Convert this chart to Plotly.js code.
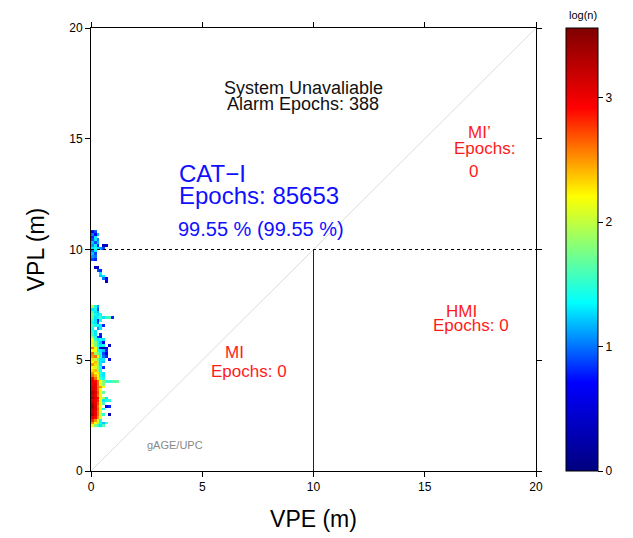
<!DOCTYPE html>
<html>
<head>
<meta charset="utf-8">
<script src="https://cdn.plot.ly/plotly-3.0.1.min.js"></script>
<style>html,body{margin:0;padding:0;background:#fff;}#chart{width:633px;height:538px;}</style>
</head>
<body>
<div id="chart"></div>
<script>
// ---- DATA ----
const binSize = 0.125;          // VPE / VPL histogram bin size (m)
const vpeStart = 0.0;           // first VPE bin edge
const vplStart = 2.0;           // first VPL bin edge
const alarmLimit = 10;          // VAL (m)
const axisMax = 20;
const zMax = 3.56;
// log10(count) per VPL row (bottom -> top), columns = VPE bins from 0
const logCounts = [
  [2.2,1.8,1.5,1.3,1.6],
  [2.5,2.2,1.9,1.4,1.2,1.5],
  [2.8,2.5,2.1,1.4],
  [3.0,2.9,2.5,2.1],
  [3.3,3.0,2.6,2.0,1.5,null,0.3],
  [3.2,3.0,2.6,2.1],
  [3.3,3.1,2.7,2.2,1.4],
  [3.4,3.1,2.6,2.2,null,0.7,0.8],
  [3.3,3.0,2.7,2.2,1.6],
  [3.1,3.0,2.8,2.2,1.3,1.4,1.5],
  [3.4,3.1,2.9,2.2,1.9,1.3],
  [3.2,3.0,2.6,2.2],
  [3.3,3.1,2.7,2.2,1.7],
  [3.1,3.0,2.6,2.2],
  [3.1,3.0,2.6,2.5,2.2],
  [3.0,3.0,2.6,2.1,1.8],
  [3.0,2.9,2.6,2.2,1.8,1.5,1.5,1.6,1.6,1.7],
  [2.9,2.6,2.2,1.6,1.4],
  [2.6,2.4,2.2,1.4,1.3],
  [2.5,2.2,2.3,1.5,1.3],
  [2.3,2.4,1.8,1.4],
  [2.2,2.1,1.8,1.4,0.8],
  [2.5,2.3,1.8,1.3],
  [2.2,2.4,1.8,1.3,1.2],
  [2.3,2.0,1.7,1.3,1.3,null,0.6],
  [2.5,2.6,2.2,1.4,1.0,0.8],
  [2.6,1.9,1.7,1.4,0.9,0.6],
  [2.2,2.2,1.4,1.3,1.2,0.8],
  [2.6,2.2,1.4,0.5,0.3,0.6],
  [2.2,1.8,1.4,1.3,1.4,null,0.5],
  [2.1,1.8,1.4,1.2,0.6],
  [2.2,1.5,1.3,1.4,1.3],
  [1.8,1.4,0.8,0.6],
  [1.6,1.3,null,0.8],
  [1.5,1.3],
  [1.4,null,1.1,1.3],
  [1.6,1.4,1.4,1.3,0.8],
  [1.4,1.3,0.9],
  [1.5,1.3,0.8,1.4],
  [1.7,1.3,1.4,1.6,1.3,1.5,1.6,0.8],
  [1.8,1.4,1.3,1.4],
  [1.6,1.3,1.2],
  [1.3,1.4,0.9],
  [2.0,1.4,1.1],
  [],[],[],[],[],[],[],[],
  [null,null,null,null,null,0.5],
  [null,null,null,null,1.0,0.7],
  [null,null,null,1.2,1.3],
  [null,null,null,1.3],
  [null,null,0.9,0.8],
  [null,0.4,0.3],
  [],
  [],
  [0.9,0.8],
  [1.1,1.0],
  [1.2,0.9],
  [1.0,1.3],
  [1.3,1.4,1.3,1.1,0.9],
  [1.1,1.3,0.8,null,0.4,0.3],
  [1.2,0.9,1.2],
  [0.9,1.3,1.0],
  [0.8,1.3],
  [1.0,0.7,1.2],
  [0.6,0.9]
];
const nCols = 11;
const colorStops = [
  [0,'#00007f'],[0.2,'#0000ff'],[0.38,'#00ffff'],
  [0.62,'#ffff00'],[0.82,'#ff0000'],[1,'#7f0000']
];
const cbTicks = [0,1,2,3];

// ---- BUILD ----
const z = logCounts.map(r => {
  const row = r.slice();
  while (row.length < nCols) row.push(null);
  return row;
});
const xCenters = [];
for (let i = 0; i < nCols; i++) xCenters.push(vpeStart + binSize*(i+0.5));
const yCenters = [];
for (let j = 0; j < z.length; j++) yCenters.push(vplStart + binSize*(j+0.5));

const FONT = 'Liberation Sans, Arial, Helvetica, sans-serif';
const heat = {
  type:'heatmap', x:xCenters, y:yCenters, z:z,
  zmin:0, zmax:zMax, colorscale:colorStops, hoverongaps:false,
  colorbar:{
    thickness:32, thicknessmode:'pixels', len:1, lenmode:'fraction',
    x:1.067, xanchor:'left', y:0, yanchor:'bottom', ypad:0, xpad:0,
    outlinewidth:1, outlinecolor:'#000',
    tickvals:cbTicks, ticks:'outside', ticklen:5, tickcolor:'#000',
    tickfont:{size:12, color:'#000', family:FONT}
  }
};

const red = '#ff1a1a', blue = '#1010ff';
function ann(x,y,text,size,color,xanchor){
  return {x:x,y:y,xref:'x',yref:'y',text:text,showarrow:false,
    font:{size:size,color:color,family:FONT},xanchor:xanchor||'center',yanchor:'middle'};
}
const layout = {
  width:633, height:538,
  margin:{l:91,r:97,t:28,b:67},
  paper_bgcolor:'#fff', plot_bgcolor:'#fff',
  font:{family:FONT,color:'#000'},
  showlegend:false,
  xaxis:{range:[0,axisMax],dtick:5,ticks:'outside',ticklen:5,tickcolor:'#000',
    showline:true,linecolor:'#000',linewidth:1,mirror:'ticks',showgrid:false,zeroline:false,
    tickfont:{size:12},title:{text:'VPE (m)',font:{size:23},standoff:17}},
  yaxis:{range:[0,axisMax],dtick:5,ticks:'outside',ticklen:5,tickcolor:'#000',
    showline:true,linecolor:'#000',linewidth:1,mirror:'ticks',showgrid:false,zeroline:false,
    tickfont:{size:12},title:{text:'VPL (m)',font:{size:23},standoff:18}},
  shapes:[
    {type:'line',xref:'x',yref:'y',x0:0,y0:0,x1:axisMax,y1:axisMax,line:{color:'#dcdcdc',width:1}},
    {type:'line',xref:'x',yref:'y',x0:0,y0:alarmLimit,x1:axisMax,y1:alarmLimit,line:{color:'#000',width:1,dash:'dot'}},
    {type:'line',xref:'x',yref:'y',x0:alarmLimit,y0:0,x1:alarmLimit,y1:alarmLimit,line:{color:'#222',width:1}}
  ],
  annotations:[
    ann(9.55,17.29,'System Unavaliable',18,'#111'),
    ann(9.55,16.57,'Alarm Epochs: 388',18,'#111'),
    ann(3.87,13.41,'CAT−I',24,blue,'left'),
    ann(3.87,12.42,'Epochs: 85653',24,blue,'left'),
    ann(3.83,10.93,'99.55 % (99.55 %)',20,blue,'left'),
    ann(17.48,15.26,'MI’',17,red),
    ann(17.7,14.54,'Epochs:',17,red),
    ann(17.17,13.54,'0',17,red),
    ann(16.67,7.22,'HMI',17,red),
    ann(17.08,6.55,'Epochs: 0',17,red),
    ann(6.43,5.33,'MI',17,red),
    ann(7.10,4.51,'Epochs: 0',17,red),
    ann(3.78,1.17,'gAGE/UPC',11,'#888'),
    {x:1.1056,y:1.03,xref:'paper',yref:'paper',text:'log(n)',showarrow:false,
      font:{size:11,color:'#000',family:FONT},xanchor:'center',yanchor:'middle'}
  ]
};
Plotly.newPlot('chart',[heat],layout,{displayModeBar:false,staticPlot:true});
</script>
</body>
</html>
